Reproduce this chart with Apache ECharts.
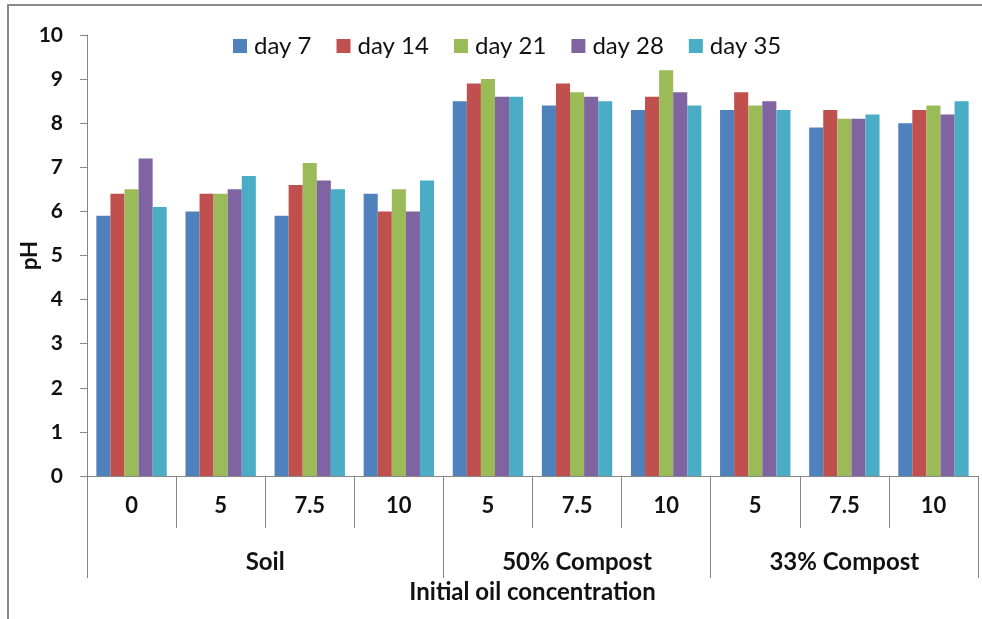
<!DOCTYPE html>
<html>
<head>
<meta charset="utf-8">
<script src="https://cdn.jsdelivr.net/npm/echarts@6/dist/echarts.min.js"></script>
<style>html,body{margin:0;padding:0;background:#fff;overflow:hidden;}#c{width:982px;height:619px;}</style>
</head>
<body>
<div id="c"></div>
<script>
const categories = ['0','5','7.5','10','5','7.5','10','5','7.5','10'];
const groupNames = ['Soil','50% Compost','33% Compost'];
const groupSizes = [4,3,3];
const seriesNames = ['day 7','day 14','day 21','day 28','day 35'];
const day7  = [5.9, 6.0, 5.9, 6.4, 8.5, 8.4, 8.3, 8.3, 7.9, 8.0];
const day14 = [6.4, 6.4, 6.6, 6.0, 8.9, 8.9, 8.6, 8.7, 8.3, 8.3];
const day21 = [6.5, 6.4, 7.1, 6.5, 9.0, 8.7, 9.2, 8.4, 8.1, 8.4];
const day28 = [7.2, 6.5, 6.7, 6.0, 8.6, 8.6, 8.7, 8.5, 8.1, 8.2];
const day35 = [6.1, 6.8, 6.5, 6.7, 8.6, 8.5, 8.4, 8.3, 8.2, 8.5];
const yTicks = [0,1,2,3,4,5,6,7,8,9,10];
const colors = ['#4F81BD','#C0504D','#9BBB59','#8064A2','#4BACC6'];

const allData = [day7, day14, day21, day28, day35];
const bounds = [0]; groupSizes.forEach((s,i)=>bounds.push(bounds[i]+s));
const centers = groupSizes.map((s,i)=>bounds[i]+s/2);
const nCat = categories.length;

const font = 'Lato, "Open Sans", sans-serif';
const chart = echarts.init(document.getElementById('c'), null, {renderer:'canvas'});
chart.setOption({
  animation:false,
  color: colors,
  graphic:[{type:'rect', shape:{x:8,y:5,width:1200,height:900}, style:{fill:'none', stroke:'#8a8a8a', lineWidth:2}, silent:true, z:-1}],
  legend:{top:29, left:228, itemWidth:14, itemHeight:14, itemGap:25, icon:'rect',
    textStyle:{fontFamily:font, fontSize:24, color:'#111', padding:[0,0,0,2]}},
  grid:{left:87, right:4, top:35, bottom:143, containLabel:false},
  xAxis:[{
    type:'category', data:categories, position:'bottom',
    axisLine:{lineStyle:{color:'#868686', width:1}},
    axisTick:{show:true, interval:0, length:52, lineStyle:{color:'#868686'}},
    axisLabel:{interval:0, margin:19, fontFamily:font, fontSize:22, fontWeight:'bold', color:'#111'}
  },{
    type:'value', min:0, max:nCat + 0.001, position:'bottom', offset:0,
    axisLine:{show:false},
    splitLine:{show:false},
    axisTick:{show:true, customValues:bounds, length:102, lineStyle:{color:'#868686'}},
    axisLabel:{customValues:centers, margin:74, fontFamily:font, fontSize:24, fontWeight:'bold', color:'#111',
      formatter:(v)=>{const i=centers.indexOf(v); return i>=0?groupNames[i]:'';}},
    name:'Initial oil concentration', nameLocation:'middle', nameGap:104, nameMoveOverlap:false,
    nameTextStyle:{fontFamily:font, fontSize:24, fontWeight:'bold', color:'#111'}
  }],
  yAxis:{
    type:'value', min:0, max:10, interval:1,
    axisLine:{show:true, lineStyle:{color:'#868686'}},
    axisTick:{show:true, length:7, lineStyle:{color:'#868686'}},
    splitLine:{show:false},
    axisLabel:{margin:24, fontFamily:font, fontSize:21, fontWeight:'bold', color:'#111',
      formatter:(v)=>yTicks.includes(v)?String(v):''},
    name:'pH', nameLocation:'middle', nameGap:46, nameRotate:90, nameMoveOverlap:false,
    nameTextStyle:{fontFamily:font, fontSize:22, fontWeight:'bold', color:'#111'}
  },
  series: seriesNames.map((n,i)=>({
    name:n, type:'bar', xAxisIndex:0, data:allData[i],
    barGap:'0%', barCategoryGap:'21%'
  }))
});
</script>
</body>
</html>
